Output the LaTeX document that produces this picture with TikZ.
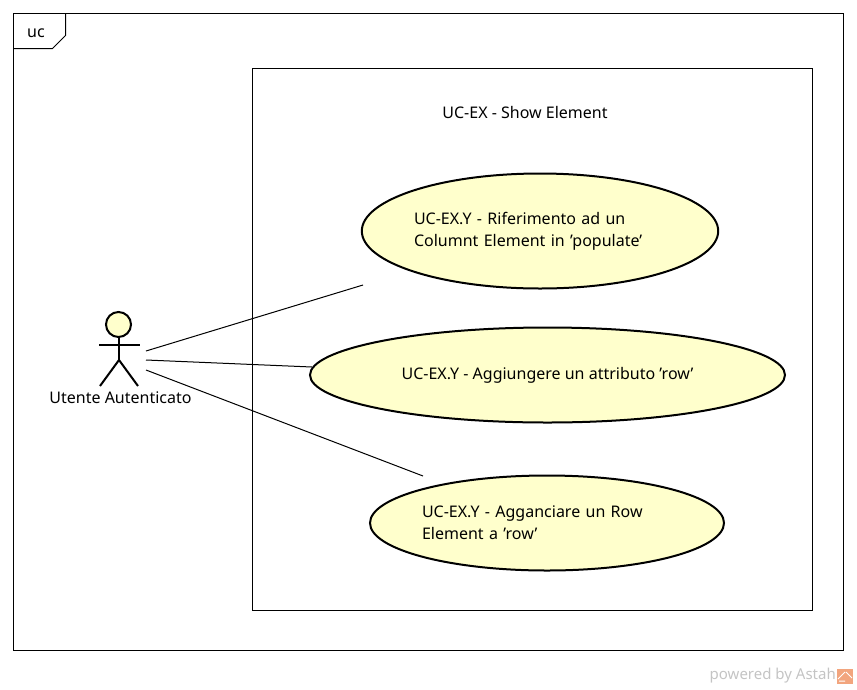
\documentclass[tikz,border=0pt]{standalone}
\usepackage{fontspec}
\usepackage{xcolor}
\usetikzlibrary{shapes.geometric}
\setmainfont{Noto Sans}
\definecolor{ucfill}{HTML}{FFFFCC}
\definecolor{markgray}{HTML}{C4C4C4}
\definecolor{markorange}{HTML}{F2A57E}
\tikzset{
  ucase/.style={draw,ellipse,fill=ucfill,line width=2pt,inner sep=0pt,font=\fontsize{16}{22}\selectfont\bfseries,align=left},
  frameline/.style={line width=1pt},
  stick/.style={line width=2pt},
  assoc/.style={line width=1pt}
}
\begin{document}
\begin{tikzpicture}[x=1pt,y=-1pt]
  \useasboundingbox (0,0) rectangle (857,689);
  \draw[frameline] (13.5,13.5) rectangle (843.5,650.5);
  \draw[frameline] (13.5,48.5)--(52.5,48.5)--(65.5,35.5)--(65.5,13.5);
  \node[font=\fontsize{16}{20}\selectfont\bfseries] (F) at (36,33) {uc};
  \draw[frameline] (252.5,68.5) rectangle (812.5,610.5);
  \node[font=\fontsize{16}{20}\selectfont] (T) at (525,112) {UC-EX - Show Element};
  \node[ucase,minimum width=354pt,minimum height=115pt,text width=252pt] (A) at (540,231) {UC-EX.Y - Riferimento ad un\\Columnt Element in 'populate'};
  \node[ucase,minimum width=475pt,minimum height=95pt] (B) at (547.5,375) {UC-EX.Y - Aggiungere un attributo 'row'};
  \node[ucase,minimum width=354pt,minimum height=95pt,text width=250pt] (C) at (547,523) {UC-EX.Y - Agganciare un Row\\Element a 'row'};
  % actor
  \draw[stick,fill=ucfill] (118.5,324.5) circle (12.5);
  \draw[stick] (99,345)--(140,345); \draw[stick] (119,337)--(119,360);
  \draw[stick] (100,386)--(119,360)--(138,386);
  \node[font=\fontsize{16}{20}\selectfont\bfseries] (U) at (120.5,398) {Utente Autenticato};
  \coordinate (U1) at (146,351); \coordinate (U2) at (146,360); \coordinate (U3) at (146,370);
  \coordinate (A1) at (363,285); \coordinate (B1) at (312,367); \coordinate (C1) at (423,476);
  \draw[assoc] (U1)--(A1); \draw[assoc] (U2)--(B1); \draw[assoc] (U3)--(C1);
  % watermark
  \node[font=\fontsize{15}{18}\selectfont\bfseries,text=markgray,anchor=east,inner sep=0pt] (W) at (836,676) {powered by Astah};
  \fill[markorange] (837,669) rectangle (853,684);
  \draw[white,line width=1pt] (838,679)--(845,672) (846,672)--(852,678) (839,681)--(845,681);
\end{tikzpicture}
\end{document}
